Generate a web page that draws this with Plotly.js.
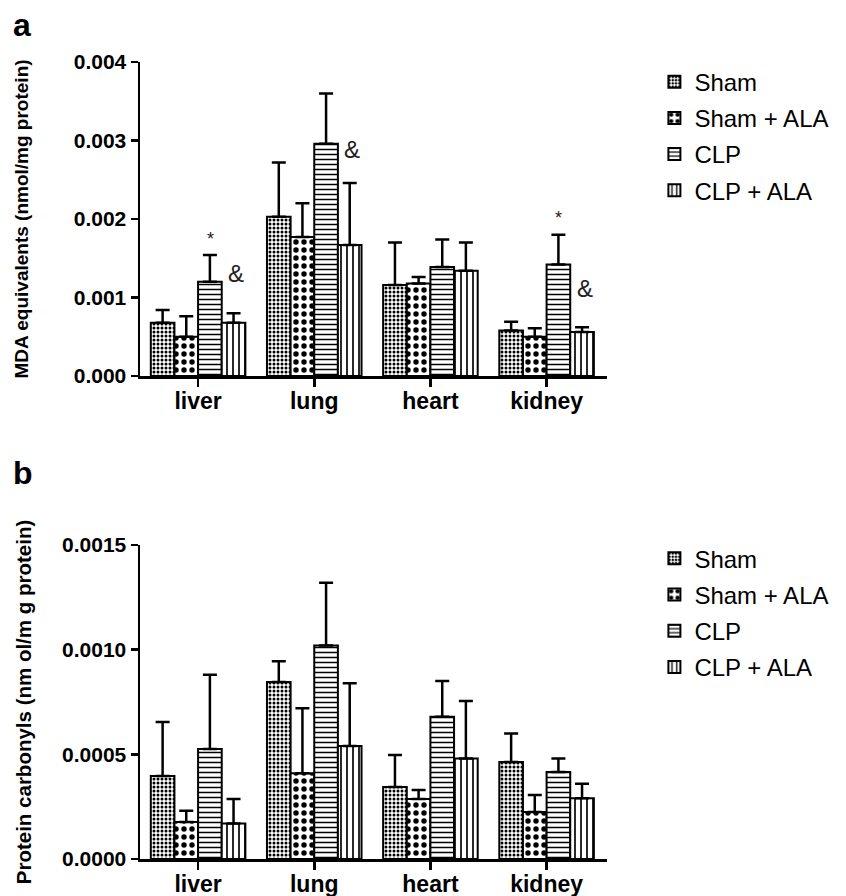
<!DOCTYPE html>
<html>
<head>
<meta charset="utf-8">
<script src="https://cdn.plot.ly/plotly-3.0.1.min.js"></script>
<style>html,body{margin:0;padding:0;background:#fff;}#chart{width:846px;height:896px;}</style>
</head>
<body>
<div id="chart"></div>
<script>
// ---------- data ----------
const categories = ['liver', 'lung', 'heart', 'kidney'];
const seriesNames = ['Sham', 'Sham + ALA', 'CLP', 'CLP + ALA'];

// Panel a: MDA equivalents (nmol/mg protein), mean and upper SD
const mdaSham       = [0.00068, 0.00203, 0.00116, 0.00058];
const mdaShamErr    = [0.00016, 0.00069, 0.00054, 0.00011];
const mdaShamALA    = [0.00050, 0.00177, 0.00118, 0.00050];
const mdaShamALAErr = [0.00026, 0.00043, 0.00008, 0.00011];
const mdaCLP        = [0.00120, 0.00296, 0.00139, 0.00142];
const mdaCLPErr     = [0.00034, 0.00064, 0.00035, 0.00038];
const mdaCLPALA     = [0.00068, 0.00167, 0.00134, 0.00056];
const mdaCLPALAErr  = [0.00012, 0.00079, 0.00036, 0.00006];

// Panel b: Protein carbonyls (nmol/mg protein), mean and upper SD
const pcSham       = [0.000396, 0.000845, 0.000344, 0.000463];
const pcShamErr    = [0.000258, 0.000100, 0.000153, 0.000137];
const pcShamALA    = [0.000177, 0.000410, 0.000287, 0.000224];
const pcShamALAErr = [0.000053, 0.000310, 0.000043, 0.000082];
const pcCLP        = [0.000525, 0.001020, 0.000680, 0.000415];
const pcCLPErr     = [0.000355, 0.000300, 0.000170, 0.000065];
const pcCLPALA     = [0.000170, 0.000540, 0.000480, 0.000290];
const pcCLPALAErr  = [0.000117, 0.000300, 0.000275, 0.000070];

const yTicksA = [0, 0.001, 0.002, 0.003, 0.004];
const yTicksB = [0, 0.0005, 0.0010, 0.0015];

// significance marks on panel a: category, series index, text, y
const sigCats   = ['liver', 'liver', 'lung', 'kidney', 'kidney'];
const sigSeries = [2, 3, 3, 2, 3];
const sigText   = ['*', '&', '&', '*', '&'];
const sigY      = [0.00174, 0.00131, 0.00288, 0.00201, 0.00112];

// ---------- styles ----------
const FONT = 'Arial, "Liberation Sans", sans-serif';
const patterns = [
  {shape: '.', size: 4, solidity: 0.45},
  {shape: '.', size: 8, solidity: 0.36},
  {shape: '-', size: 5, solidity: 0.3},
  {shape: '|', size: 6, solidity: 0.28}
];

function makeTrace(name, idx, y, err, xa, ya, legend, grp) {
  return {
    type: 'bar', name: name, x: categories, y: y,
    xaxis: xa, yaxis: ya, legend: legend, legendgroup: grp,
    marker: {
      color: 'white',
      line: {color: 'black', width: 2},
      pattern: Object.assign({fgcolor: 'black', bgcolor: 'white', fillmode: 'replace'}, patterns[idx])
    },
    error_y: {type: 'data', symmetric: false, array: err, arrayminus: err.map(() => 0),
              color: 'black', thickness: 2.5, width: 7},
    hoverinfo: 'skip'
  };
}

const seriesA = [[mdaSham, mdaShamErr], [mdaShamALA, mdaShamALAErr], [mdaCLP, mdaCLPErr], [mdaCLPALA, mdaCLPALAErr]];
const seriesB = [[pcSham, pcShamErr], [pcShamALA, pcShamALAErr], [pcCLP, pcCLPErr], [pcCLPALA, pcCLPALAErr]];

const data = [];
seriesA.forEach((s, i) => data.push(makeTrace(seriesNames[i], i, s[0], s[1], 'x', 'y', 'legend', 'a' + i)));
seriesB.forEach((s, i) => data.push(makeTrace(seriesNames[i], i, s[0], s[1], 'x2', 'y2', 'legend2', 'b' + i)));

const barPx = 24; // bar width in pixels, for centring marks over a bar
const offsets = [-1.5, -0.5, 0.5, 1.5];

const annotations = sigCats.map((c, k) => ({
  x: c, y: sigY[k], xref: 'x', yref: 'y', text: sigText[k], showarrow: false,
  xshift: offsets[sigSeries[k]] * barPx + (sigText[k] === '&' ? 2 : 0),
  font: {family: FONT, size: sigText[k] === '*' ? 18 : 24, color: '#222'}
}));
annotations.push({x: 0, y: 1, xref: 'paper', yref: 'paper', text: '<b>a</b>', showarrow: false,
  xanchor: 'left', yanchor: 'middle', xshift: -129, yshift: 37, font: {family: FONT, size: 32, color: 'black'}});
annotations.push({x: 0, y: 0.394, xref: 'paper', yref: 'paper', text: '<b>b</b>', showarrow: false,
  xanchor: 'left', yanchor: 'middle', xshift: -129, yshift: 72, font: {family: FONT, size: 32, color: 'black'}});

const xCommon = {
  type: 'category', range: [-0.5, 3.52], showline: true, linecolor: 'black', linewidth: 2.5,
  ticks: 'outside', ticklen: 8, tickwidth: 2.5, tickcolor: 'black', showgrid: false, zeroline: false,
  ticklabelstandoff: -5,
  tickfont: {family: FONT, size: 23, color: 'black', weight: 'bold'}, fixedrange: true
};
const yCommon = {
  showline: true, linecolor: 'black', linewidth: 2.5, ticks: 'outside', ticklen: 7, tickwidth: 2.5,
  tickcolor: 'black', showgrid: false, zeroline: false,
  tickfont: {family: FONT, size: 21, color: 'black', weight: 'bold'}, fixedrange: true
};

const legendCommon = {
  xanchor: 'left', yanchor: 'top', x: 1.1015, bgcolor: 'rgba(0,0,0,0)', tracegroupgap: 2,
  font: {family: FONT, size: 24, color: 'black'}, itemclick: false, itemdoubleclick: false
};

const layout = {
  width: 846, height: 896,
  margin: {l: 140, r: 232, t: 62, b: 37},
  paper_bgcolor: 'white', plot_bgcolor: 'white',
  barmode: 'group', bargap: 0.186, bargroupgap: 0,
  showlegend: true,
  xaxis: Object.assign({}, xCommon, {anchor: 'y', domain: [0, 1]}),
  yaxis: Object.assign({}, yCommon, {anchor: 'x', domain: [0.606, 1], range: [0, 0.004],
    tickvals: yTicksA, tickformat: '.3f',
    title: {text: '<b>MDA equivalents (nmol/mg protein)</b>', standoff: 40,
            font: {family: FONT, size: 19, color: 'black'}}}),
  xaxis2: Object.assign({}, xCommon, {anchor: 'y2', domain: [0, 1]}),
  yaxis2: Object.assign({}, yCommon, {anchor: 'x2', domain: [0, 0.394], range: [0, 0.0015],
    tickvals: yTicksB, tickformat: '.4f',
    title: {text: '<b>Protein carbonyls (nm ol/m g protein)</b>', standoff: 25,
            font: {family: FONT, size: 20.5, color: 'black'}}}),
  legend: Object.assign({}, legendCommon, {y: 1.003}),
  legend2: Object.assign({}, legendCommon, {y: 0.405}),
  annotations: annotations
};

Plotly.newPlot('chart', data, layout, {staticPlot: true, displayModeBar: false});
</script>
</body>
</html>
